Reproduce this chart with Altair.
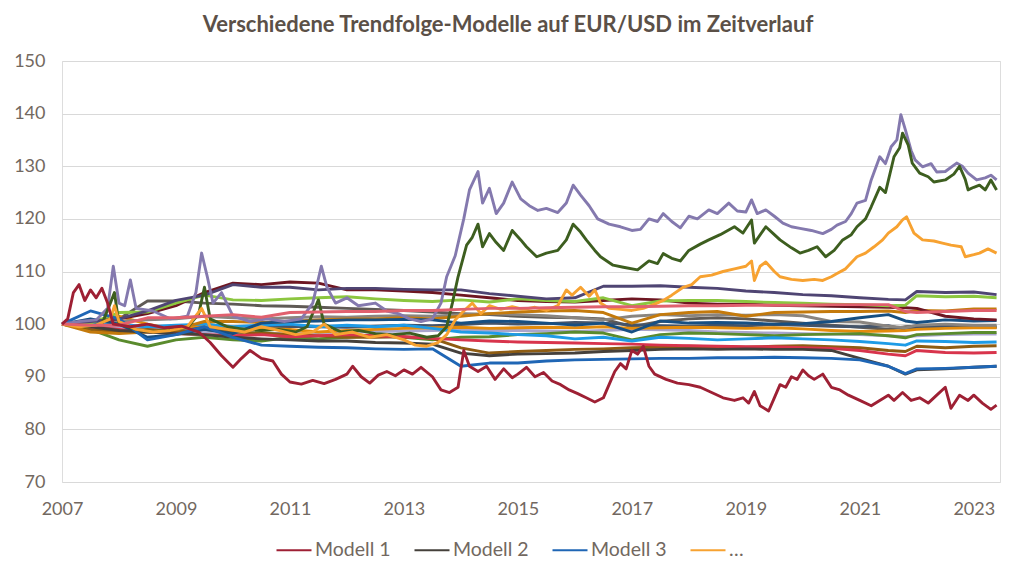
import altair as alt
import pandas as pd

# ---------------- data ----------------
T_MID = [2007.0, 2007.5, 2008.0, 2008.5, 2009.0, 2009.5, 2010.0, 2010.5, 2011.0, 2011.5,
         2012.0, 2012.5, 2013.0, 2013.5, 2014.0, 2014.5, 2015.0, 2015.5, 2016.0, 2016.5,
         2017.0, 2017.5, 2018.0, 2018.5, 2019.0, 2019.5, 2020.0, 2020.5, 2021.0, 2021.5,
         2021.8, 2022.0, 2022.5, 2023.0, 2023.4]

dark_purple = [100, 100.5, 101, 102.5, 104.5, 105.5, 107.5, 107, 107, 106.5, 106.8, 106.8, 106.6, 106.5,
               106.5, 105.8, 105.3, 104.8, 105, 107.2, 107.2, 107.3, 107, 106.8, 106.3, 106, 105.6, 105.4,
               105, 104.7, 104.6, 106.2, 106, 106.1, 105.6]
maroon = [100, 100.5, 101, 102, 103.5, 106, 107.8, 107.5, 108, 107.8, 106.5, 106.5, 106.3, 106, 105.5,
          105, 104.5, 104.3, 104.2, 104.5, 104.8, 104.6, 104, 103.8, 103.8, 103.6, 103.5, 103.4, 103.3,
          103.2, 103.1, 103, 101.5, 101, 100.8]
light_green = [100, 100.2, 102.2, 102.3, 104, 105.5, 104.6, 104.5, 104.8, 105, 105.2, 104.8, 104.5, 104.3,
               104.6, 104.2, 104.8, 104.5, 104.3, 105, 103.5, 104.4, 104.5, 104.5, 104.3, 104.1, 104, 103.8,
               103.7, 103.5, 103.6, 105.4, 105.2, 105.3, 105]
pink = [100, 99.8, 99.8, 101.2, 101.2, 101.5, 101.8, 101.3, 102.2, 102.3, 102.4, 102.4, 102.6, 102.6, 102.8,
        103, 103, 103.1, 103.2, 103.3, 103.3, 103.4, 103.5, 103.5, 103.6, 103.6, 103.6, 103.7, 103.7, 103.7,
        102.4, 102.2, 102.4, 102.6, 102.6]
goldenrod = [100, 98.5, 98.2, 98.5, 99, 100.5, 100.5, 100.3, 100.5, 100.8, 101, 101, 101.2, 101, 101.5, 102,
             102.3, 102.5, 102.6, 102.2, 100.2, 101.8, 102.2, 102.4, 101.5, 102.2, 102.3, 102.4, 102.4, 102.5,
             102.2, 102.6, 102.5, 102.9, 102.9]
gray = [100, 99.5, 100.5, 100.8, 101, 101.5, 101.2, 101, 101.2, 101.4, 101.3, 101.5, 101.6, 101.5, 101.8, 102,
        101.8, 101.6, 101.2, 100.8, 101.5, 101.8, 101.6, 101.8, 101.7, 101.8, 101.6, 100.5, 100.4, 99.6, 99.3,
        99.8, 100, 99.8, 99.8]
navy = [100, 101, 100, 97.5, 98, 99, 98.2, 100.2, 100.5, 100.6, 100.8, 100.8, 100.9, 100.8, 100.2, 100.6,
        100.5, 100.2, 99.8, 100.2, 98.5, 100.6, 100.2, 100.3, 100.2, 100, 100.1, 100.5, 101.2, 101.8, 100.6,
        100.3, 100.8, 100.6, 100.7]
slate = [100, 99.8, 99.6, 99.3, 99.4, 99.3, 99.2, 99.5, 99.6, 99.5, 99.4, 99.6, 99.8, 99.7, 99.9, 100.2, 100,
         100.1, 100.3, 100.2, 99.9, 99.7, 99.6, 99.8, 99.7, 99.9, 99.8, 99.6, 99.5, 99.7, 99.0, 99.2, 99.6,
         99.5, 99.5]
orange2 = [100, 100.5, 101.5, 100, 99, 100, 99.5, 99.2, 99, 98.5, 98.8, 99, 99.2, 99.3, 99.4, 99.2, 99.3, 99.4,
           99.3, 99.5, 99.2, 99.3, 99.4, 99.3, 99.2, 99.3, 99.1, 98.8, 98.6, 98.7, 98.8, 99, 99.2, 99.3, 99.3]
mid_green = [100, 99, 97, 95.8, 97, 97.5, 97, 96.8, 97.5, 97.2, 97.5, 97.8, 97.5, 97, 97.5, 97.6, 98, 98.2,
             98.5, 98.3, 97, 98, 98.3, 98.2, 98, 97.8, 98, 98.1, 98.2, 97.8, 97.4, 98, 98.2, 98.4, 98.4]
lavender = [100, 100, 99.5, 99, 98.8, 98.5, 98.3, 98.2, 98.3, 98.4, 98.5, 98.6, 98.7, 98.8, 98.9, 98.8, 98.8,
            98.7, 98.6, 98.8, 99, 98.9, 98.8, 98.5, 98.4, 98.3, 98.2, 98.1, 98.0, 97.8, 97.6, 97.8, 98, 98.1, 98.1]
light_blue = [100, 100.2, 100, 99.5, 99.8, 100, 99.5, 99.8, 100, 99.5, 99.8, 99.5, 99.8, 99.2, 98.5, 98.3, 98,
              97.8, 97.2, 97.5, 96.8, 97.5, 97.3, 97, 97.2, 97.4, 97.2, 97, 96.7, 96.3, 96.0, 96.8, 96.7, 96.5, 96.6]
brown = [100, 99, 98.5, 99, 98.5, 99, 98.5, 98.3, 98, 97.8, 97.5, 97.5, 97.6, 97.3, 95.5, 94.5, 94.8, 95, 95.2,
         95.3, 95.5, 95.6, 95.8, 95.7, 95.6, 95.8, 95.9, 95.7, 95.5, 95, 94.8, 95.8, 95.5, 95.8, 95.9]
crimson = [100, 99.5, 99, 98.5, 98.2, 98, 97.8, 98, 97.6, 97.8, 98, 97.8, 97.6, 97.3, 97, 96.8, 96.6, 96.5, 96.4,
           96.3, 96.2, 96.0, 95.9, 95.8, 95.7, 95.7, 95.5, 95.4, 95.0, 94.3, 94.0, 95, 94.6, 94.5, 94.6]
dark_gray = [100, 100, 101, 104.4, 104.4, 104, 103.8, 103.5, 103.4, 103.2, 103, 102.8, 102.6, 102.3, 102, 101.8,
             101.5, 101.3, 101.2, 101, 99.5, 100.5, 101, 101.2, 101, 100.6, 100.2, 99.8, 99.4, 99, 99.5, 99.6,
             99.5, 99.4, 99.4]
modell2 = [100, 99.5, 98.8, 98.5, 98.2, 98, 97.5, 97.2, 97, 96.8, 96.8, 96.5, 96.4, 96.2, 94.5, 94, 94.3, 94.4,
           94.5, 94.8, 95, 95.2, 95.3, 95.2, 95.3, 95.2, 95.2, 95, 93.5, 92, 90.5, 91.3, 91.5, 91.8, 92]
modell3 = [100, 102.5, 101, 97, 98, 99.5, 97.5, 96, 95.8, 95.6, 95.5, 95.3, 95.2, 95.3, 92, 92.6, 92.6, 93, 93.2,
           93.3, 93.4, 93.5, 93.5, 93.6, 93.6, 93.7, 93.6, 93.5, 93.2, 92, 90.6, 91.5, 91.6, 91.8, 92]

m1_t = [2007.0, 2007.1, 2007.2, 2007.3, 2007.4, 2007.5, 2007.6, 2007.7, 2007.8, 2007.9, 2008.2, 2008.5, 2008.8,
        2009.1, 2009.4, 2009.6, 2009.8, 2010.0, 2010.15, 2010.3, 2010.5, 2010.7, 2010.85, 2011.0, 2011.2, 2011.4,
        2011.6, 2011.8, 2012.0, 2012.1, 2012.25, 2012.4, 2012.55, 2012.7, 2012.85, 2013.0, 2013.15, 2013.3,
        2013.5, 2013.65, 2013.8, 2013.95, 2014.05, 2014.15, 2014.3, 2014.45, 2014.6, 2014.75, 2014.9, 2015.0,
        2015.15, 2015.3, 2015.45, 2015.6, 2015.75, 2015.9, 2016.05, 2016.2, 2016.35, 2016.5, 2016.6, 2016.7,
        2016.8, 2016.9, 2017.0, 2017.1, 2017.2, 2017.3, 2017.4, 2017.6, 2017.8, 2018.0, 2018.2, 2018.4, 2018.6,
        2018.8, 2018.95, 2019.05, 2019.15, 2019.25, 2019.4, 2019.5, 2019.6, 2019.7, 2019.8, 2019.9, 2020.0,
        2020.1, 2020.2, 2020.35, 2020.5, 2020.65, 2020.8, 2021.0, 2021.2, 2021.35, 2021.5, 2021.6, 2021.75,
        2021.9, 2022.05, 2022.2, 2022.35, 2022.5, 2022.6, 2022.75, 2022.9, 2023.0, 2023.15, 2023.3, 2023.4]
m1_v = [100, 101, 106, 107.5, 104.5, 106.5, 105, 106.8, 104, 100, 99.5, 100, 99.3, 99.6, 98.5, 96.5, 94, 91.8,
        93.5, 95, 93.5, 93, 90.5, 89, 88.6, 89.3, 88.7, 89.5, 90.5, 92, 90, 88.8, 90.3, 91, 90.2, 91.3, 90.5,
        91.8, 90, 87.5, 87, 88, 95, 92, 91, 92, 89.5, 91.5, 89.8, 90.5, 91.8, 90, 90.8, 89.2, 88.5, 87.5, 86.8,
        86, 85.2, 86, 88.5, 91, 92.5, 91.5, 95, 94.3, 95.8, 92, 90.5, 89.5, 88.8, 88.5, 88, 87, 86, 85.5, 86,
        85, 87.2, 84.5, 83.5, 86, 88.5, 88, 90, 89.5, 91.3, 90.2, 89.5, 90.5, 88, 87.5, 86.5, 85.5, 84.5, 85.5,
        86.5, 85.5, 87, 85.5, 86, 85, 86.5, 88, 84, 86.5, 85.5, 86.5, 85, 83.8, 84.6]

purple_t = [2007.0, 2007.3, 2007.6, 2007.8, 2007.9, 2008.0, 2008.1, 2008.2, 2008.3, 2008.6, 2008.9, 2009.2,
            2009.35, 2009.45, 2009.55, 2009.65, 2009.8, 2010.0, 2010.3, 2010.6, 2010.9, 2011.2, 2011.4, 2011.55,
            2011.65, 2011.8, 2012.0, 2012.2, 2012.5, 2012.7, 2012.9, 2013.1, 2013.3, 2013.5, 2013.65, 2013.75,
            2013.9, 2014.05, 2014.15, 2014.3, 2014.38, 2014.5, 2014.62, 2014.75, 2014.9, 2015.05, 2015.2,
            2015.35, 2015.5, 2015.7, 2015.85, 2015.97, 2016.1, 2016.25, 2016.4, 2016.6, 2016.8, 2017.0, 2017.15,
            2017.3, 2017.45, 2017.55, 2017.7, 2017.85, 2018.0, 2018.15, 2018.35, 2018.5, 2018.7, 2018.85, 2019.0,
            2019.1, 2019.2, 2019.35, 2019.5, 2019.65, 2019.8, 2019.95, 2020.15, 2020.35, 2020.5, 2020.6, 2020.75,
            2020.85, 2020.95, 2021.1, 2021.2, 2021.35, 2021.45, 2021.55, 2021.65, 2021.72, 2021.8, 2021.9,
            2021.97, 2022.1, 2022.25, 2022.35, 2022.5, 2022.7, 2022.8, 2022.9, 2023.05, 2023.2, 2023.3, 2023.4]
purple_v = [100, 100.5, 100.8, 103, 111, 104, 103.5, 108.4, 103, 102.5, 101, 101.5, 106, 113.5, 109, 104, 106,
            101.5, 100.5, 101, 100.5, 101, 104, 111, 107, 104, 105, 103.5, 104, 102.5, 102, 101, 100.5, 101, 104,
            109, 113, 120, 125.5, 129, 123, 125.8, 121, 123, 127, 123.8, 122.5, 121.6, 122, 121.2, 123, 126.4,
            124.5, 122.5, 120, 119, 118.5, 117.8, 118, 120, 119.5, 121, 119.5, 118.3, 120.5, 120, 121.7, 121,
            123, 121.5, 121.3, 123.6, 121, 121.7, 120.5, 119.2, 118.5, 118.2, 117.8, 117.2, 118, 118.8, 119.5,
            121, 123, 123.5, 127.4, 131.8, 130.5, 133.7, 135, 139.8, 136.9, 133, 131.2, 129.9, 130.5, 128.9, 129,
            130.6, 130, 128.7, 127.4, 127.8, 128.3, 127.4]

green_t = [2007.0, 2007.4, 2007.7, 2007.85, 2007.92, 2008.0, 2008.3, 2008.6, 2008.9, 2009.2, 2009.4, 2009.5,
           2009.6, 2009.9, 2010.2, 2010.5, 2010.8, 2011.1, 2011.3, 2011.5, 2011.6, 2011.9, 2012.2, 2012.5, 2012.8,
           2013.1, 2013.4, 2013.6, 2013.75, 2013.85, 2013.95, 2014.1, 2014.2, 2014.3, 2014.38, 2014.5, 2014.62,
           2014.75, 2014.9, 2015.05, 2015.15, 2015.33, 2015.5, 2015.7, 2015.85, 2015.97, 2016.1, 2016.2, 2016.35,
           2016.45, 2016.67, 2016.85, 2017.1, 2017.3, 2017.45, 2017.55, 2017.7, 2017.85, 2018.0, 2018.2, 2018.35,
           2018.55, 2018.8, 2018.95, 2019.1, 2019.15, 2019.35, 2019.5, 2019.6, 2019.8, 2019.95, 2020.1, 2020.25,
           2020.4, 2020.55, 2020.7, 2020.85, 2020.95, 2021.1, 2021.2, 2021.35, 2021.45, 2021.6, 2021.7, 2021.75,
           2021.85, 2021.92, 2022.05, 2022.2, 2022.3, 2022.5, 2022.65, 2022.75, 2022.85, 2022.9, 2023.0, 2023.1,
           2023.2, 2023.3, 2023.4]
green_v = [100, 99.5, 100, 104, 106, 100, 99, 98.5, 99, 99.3, 102, 107, 101, 99.5, 99, 98.8, 99, 98.5, 99.5,
           104.6, 100, 98.5, 98.8, 98.2, 98, 98.3, 97.5, 97.8, 99.5, 104, 109, 115, 116.5, 119, 114.7, 117.2,
           115.5, 114, 117.8, 116, 114.7, 112.8, 113.5, 114, 116, 119, 117.5, 116, 114, 112.8, 111.2, 110.8,
           110.3, 112, 111.5, 113.4, 112.5, 112, 114, 115.2, 116, 117, 118.5, 117.3, 119.8, 115.4, 118.5, 117,
           116, 114.5, 113.5, 114, 114.7, 112.8, 114, 116, 117, 118.5, 120, 122.3, 126, 125, 131.8, 133.5, 136.3,
           134, 130.6, 128.7, 128, 127, 127.4, 128.5, 130, 127.5, 125.5, 126, 126.4, 125.5, 127.4, 125.5]

orange_t = [2007.0, 2007.3, 2007.6, 2007.85, 2007.92, 2008.0, 2008.3, 2008.6, 2008.9, 2009.2, 2009.45, 2009.6,
            2009.9, 2010.2, 2010.5, 2010.8, 2011.1, 2011.4, 2011.6, 2011.8, 2012.1, 2012.4, 2012.7, 2013.0,
            2013.2, 2013.4, 2013.6, 2013.75, 2013.9, 2014.05, 2014.2, 2014.35, 2014.5, 2014.7, 2014.9, 2015.1,
            2015.3, 2015.5, 2015.7, 2015.85, 2015.95, 2016.1, 2016.25, 2016.35, 2016.45, 2016.6, 2016.8, 2017.0,
            2017.2, 2017.4, 2017.55, 2017.7, 2017.9, 2018.05, 2018.2, 2018.4, 2018.6, 2018.8, 2019.0, 2019.1,
            2019.15, 2019.25, 2019.35, 2019.5, 2019.6, 2019.8, 2020.0, 2020.2, 2020.35, 2020.5, 2020.6, 2020.75,
            2020.95, 2021.1, 2021.25, 2021.4, 2021.5, 2021.65, 2021.75, 2021.82, 2021.95, 2022.1, 2022.3, 2022.45,
            2022.6, 2022.78, 2022.85, 2023.0, 2023.1, 2023.25, 2023.4]
orange_v = [100, 99.5, 99.8, 101, 103.5, 100.5, 99, 98.5, 98.8, 99.5, 103, 99.5, 99, 98.5, 99.5, 98.8, 98, 98.5,
            100, 98, 98.5, 97.5, 98, 97, 96, 95.8, 96.5, 98, 100.8, 102.5, 104, 102, 103.5, 102.8, 103.3, 102.8,
            103.2, 102.6, 103.5, 106.5, 105.5, 107, 105.3, 106.5, 104, 103, 102.8, 102.6, 103, 103.8, 104.5,
            105.5, 107, 107.5, 109, 109.3, 110, 110.5, 111, 112, 108.3, 111, 111.8, 110, 109, 108.5, 108.3, 108.5,
            108.3, 109, 109.6, 110.5, 112.8, 113.5, 114.7, 116, 117.3, 118.5, 119.8, 120.4, 117.3, 116, 115.8,
            115.4, 115, 114.7, 112.8, 113.2, 113.5, 114.3, 113.5]

# name, colour, dates, values  (drawing order: first = bottom)
SERIES = [
    ("S_darkgray", "#5f5a55", T_MID, dark_gray),
    ("S_slate", "#44546a", T_MID, slate),
    ("S_lavender", "#a9a5cc", T_MID, lavender),
    ("S_orange2", "#e38b0c", T_MID, orange2),
    ("S_gray", "#8a8580", T_MID, gray),
    ("S_midgreen", "#5a8b2d", T_MID, mid_green),
    ("S_lightblue", "#1e9be6", T_MID, light_blue),
    ("S_brown", "#8e5c12", T_MID, brown),
    ("S_crimson", "#d8344c", T_MID, crimson),
    ("S_goldenrod", "#c47a0c", T_MID, goldenrod),
    ("S_navy", "#174f82", T_MID, navy),
    ("S_maroon", "#6e1622", T_MID, maroon),
    ("S_lightgreen", "#8cc63f", T_MID, light_green),
    ("S_darkpurple", "#4f4573", T_MID, dark_purple),
    ("Modell 2", "#45403b", T_MID, modell2),
    ("Modell 3", "#1f66b5", T_MID, modell3),
    ("S_purple", "#8479ae", purple_t, purple_v),
    ("S_green", "#3d5e1f", green_t, green_v),
    ("…", "#f7a231", orange_t, orange_v),
    ("S_pink", "#e0606e", T_MID, pink),
    ("Modell 1", "#9e2034", m1_t, m1_v),
]

LEGEND_NAMES = ["Modell 1", "Modell 2", "Modell 3", "…"]
X_TICKS = [2007, 2009, 2011, 2013, 2015, 2017, 2019, 2021, 2023]
Y_TICKS = [70, 80, 90, 100, 110, 120, 130, 140, 150]

rows = []
for order_idx, (name, col, ts, vs) in enumerate(SERIES):
    assert len(ts) == len(vs), name
    for t, v in zip(ts, vs):
        rows.append({"serie": name, "t": t, "v": v, "grp": order_idx})
df = pd.DataFrame(rows)

names = [s[0] for s in SERIES]
colors = [s[1] for s in SERIES]

TXT = "#726860"
FONT = "Lato"

chart = alt.Chart(df).mark_line(strokeWidth=2.9, strokeJoin="round").encode(
    x=alt.X("t:Q",
            scale=alt.Scale(domain=[2007, 2023.46], nice=False, zero=False),
            axis=alt.Axis(values=X_TICKS, format="d", grid=False, domain=False, ticks=False,
                          labelFlush=False, labelPadding=18, labelFontSize=18, labelColor=TXT,
                          labelFont=FONT, title=None)),
    y=alt.Y("v:Q",
            scale=alt.Scale(domain=[70, 150], nice=False, zero=False),
            axis=alt.Axis(values=Y_TICKS, grid=True, gridColor="#d9d9d9", gridWidth=1.2, domain=False,
                          ticks=False, labelPadding=17, labelFontSize=18, labelColor=TXT, labelFont=FONT,
                          title=None)),
    color=alt.Color("serie:N",
                    scale=alt.Scale(domain=names, range=colors),
                    legend=alt.Legend(values=LEGEND_NAMES, orient="none", legendX=213, legendY=470,
                                      direction="horizontal",
                                      title=None, symbolType="stroke", symbolSize=1225,
                                      symbolStrokeWidth=2.2, labelFontSize=19.5, labelColor=TXT,
                                      labelFont=FONT, columnPadding=19, labelOffset=2)),
    detail="grp:O",
).properties(
    width=938, height=421,
    title=alt.Title("Verschiedene Trendfolge-Modelle auf EUR/USD im Zeitverlauf",
                    font=FONT, fontSize=22, fontWeight="bold", color="#5b5047",
                    anchor="middle", dx=-23, offset=15),
    autosize=alt.AutoSizeParams(type="none"),
    padding={"left": 54, "top": 53, "right": 7, "bottom": 88},
).configure_view(stroke=None).configure(background="white")

chart.save("out.html", embed_options={"renderer": "svg", "actions": False})
